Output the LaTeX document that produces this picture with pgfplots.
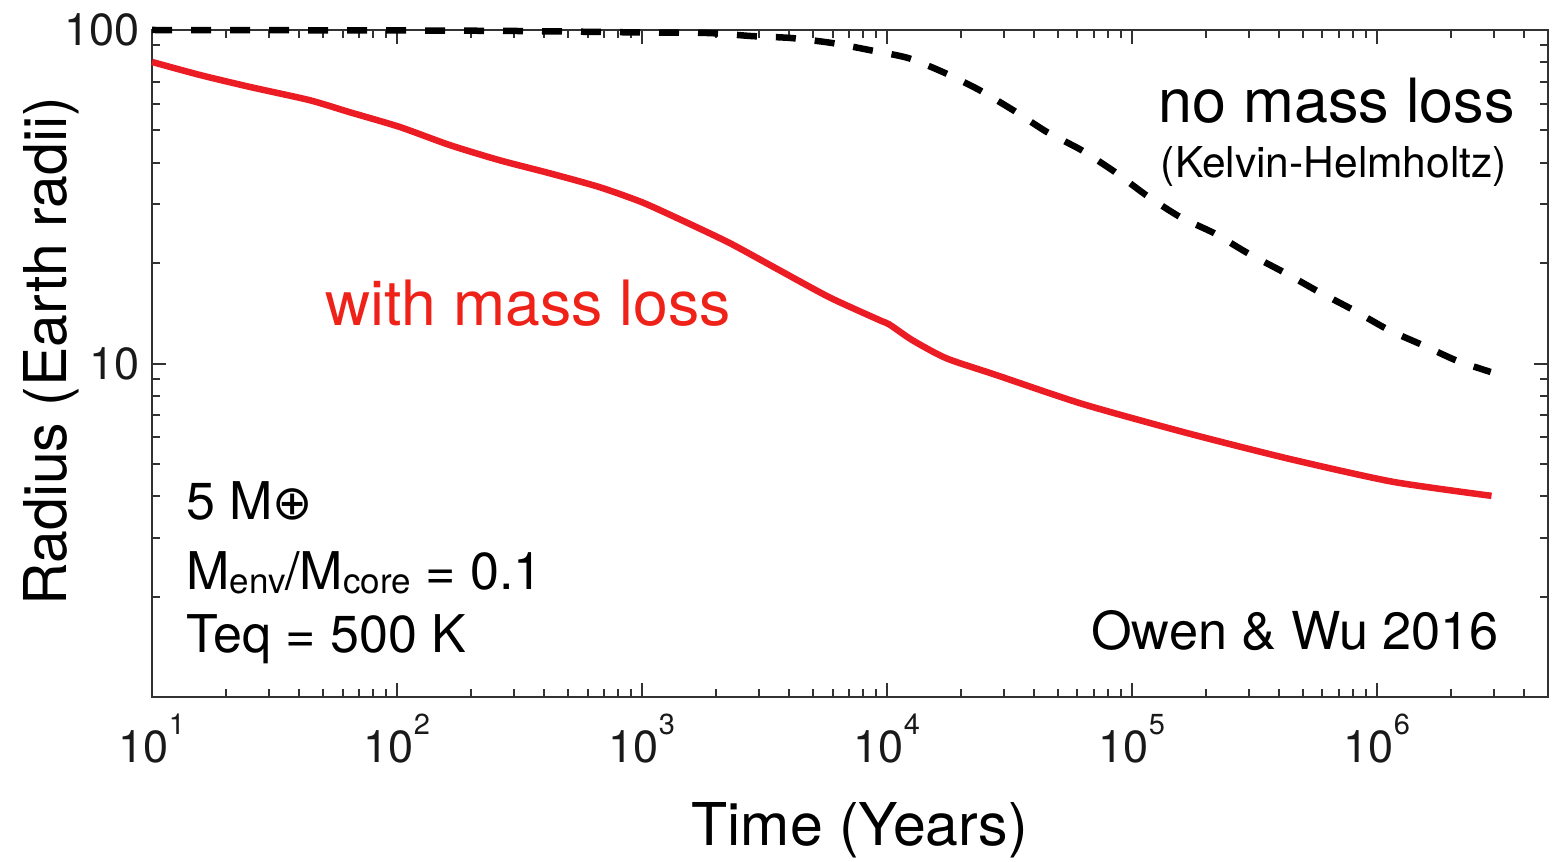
\documentclass[border=0pt]{standalone}
\usepackage{fontspec}
\setmainfont{TeX Gyre Heros}
\newfontfamily\dejavu{DejaVu Sans}
\usepackage{pgfplots}
\pgfplotsset{compat=1.18}
\definecolor{owred}{RGB}{236,28,36}
\definecolor{txtred}{RGB}{238,34,24}
\definecolor{axgray}{RGB}{50,50,50}
\newcommand\tp[1]{10\raisebox{28pt}{\fontsize{29}{29}\selectfont #1}}
\newcommand\sub[1]{\raisebox{-4pt}{\fontsize{35}{35}\selectfont #1}}

\pgfplotstableread{
t r
10 80.2
15.7 73.3
25.1 67.5
44.0 61.6
64.1 56.7
102.6 51.2
164 45.2
262 40.7
420 37.2
671 33.8
995 30.5
1422 27.1
2275 23.0
3640 19.05
5820 15.8
9310 13.5
10230 13.1
12700 11.75
17470 10.37
27900 9.24
62600 7.57
166300 6.20
437500 5.18
1160000 4.42
2940000 4.01
}\withloss

\pgfplotstableread{
t r
10 100
100 99.7
317 99.3
1000 98.3
1888 97.9
2800 95.9
4075 94.6
5985 91.4
8470 87.1
12220 82.4
17290 74.3
23820 66.1
32750 57.5
45080 49.4
62070 43.7
85400 37.5
114200 32.0
157300 27.5
216500 24.6
298000 21.4
421700 18.7
580000 16.4
797600 14.5
1119000 12.6
1541000 11.35
2120000 10.2
2917000 9.43
}\noloss

\begin{document}
\begin{tikzpicture}
\begin{axis}[
  xmode=log, ymode=log,
  scale only axis, width=1396pt, height=667pt,
  xmin=10, xmax=5e6, ymin=1, ymax=100,
  xtick={10,100,1000,10000,100000,1000000},
  xticklabels={\tp{1},\tp{2},\tp{3},\tp{4},\tp{5},\tp{6}},
  ytick={1,10,100}, yticklabels={,10,100},
  minor xtick={20,30,40,50,60,70,80,90,200,300,400,500,600,700,800,900,
    2000,3000,4000,5000,6000,7000,8000,9000,
    20000,30000,40000,50000,60000,70000,80000,90000,
    200000,300000,400000,500000,600000,700000,800000,900000,
    2000000,3000000,4000000},
  minor ytick={2,3,4,5,6,7,8,9,20,30,40,50,60,70,80,90},
  major tick length=14pt, minor tick length=8pt,
  tick style={axgray, line width=2pt},
  axis line style={axgray, line width=2.5pt},
  tick label style={font=\fontsize{45}{45}\selectfont, text=black!90},
  xticklabel style={anchor=north, inner sep=0pt, yshift=-17pt},
  yticklabel style={anchor=east, inner sep=0pt, xshift=-12pt},
  clip=false,
]
\addplot[owred, line width=6.5pt, line join=round, smooth, tension=0.4] table[x=t, y=r] {\withloss};
\addplot[black, line width=6.5pt, dash pattern=on 20pt off 19pt, smooth, tension=0.4] table[x=t, y=r] {\noloss};

\path (rel axis cs:-0.10888,-0.24588) rectangle (rel axis cs:1.01146,1.04498);

\node[anchor=base east, inner sep=0pt, font=\fontsize{61}{61}\selectfont] at (rel axis cs:0.9764,0.862) {no mass loss};
\node[anchor=base east, inner sep=0pt, font=\fontsize{42.5}{42.5}\selectfont] at (rel axis cs:0.9706,0.7796) {(Kelvin-Helmholtz)};
\node[anchor=base west, inner sep=0pt, text=txtred, font=\fontsize{62.5}{62.5}\selectfont] at (rel axis cs:0.1239,0.5577) {with mass loss};
\node[anchor=base east, inner sep=0pt, font=\fontsize{52.3}{52.3}\selectfont] at (rel axis cs:0.965,0.0705) {Owen \& Wu 2016};
\node[anchor=base west, inner sep=0pt, font=\fontsize{52}{52}\selectfont] at (rel axis cs:0.0244,0.2654) {5 M{\dejavu\fontsize{48}{48}\selectfont ⊕}};
\node[anchor=base west, inner sep=0pt, font=\fontsize{52}{52}\selectfont] at (rel axis cs:0.0244,0.1619) {M\sub{env}/M\sub{core} = 0.1};
\node[anchor=base west, inner sep=0pt, font=\fontsize{52}{52}\selectfont] at (rel axis cs:0.0244,0.066) {Teq = 500 K};

\node[anchor=base, inner sep=0pt, font=\fontsize{59}{59}\selectfont] at (rel axis cs:0.507,-0.222) {Time (Years)};
\node[anchor=base, rotate=90, inner sep=0pt, font=\fontsize{59}{59}\selectfont] at (rel axis cs:-0.0609,0.5187) {Radius (Earth radii)};
\end{axis}
\end{tikzpicture}
\end{document}
